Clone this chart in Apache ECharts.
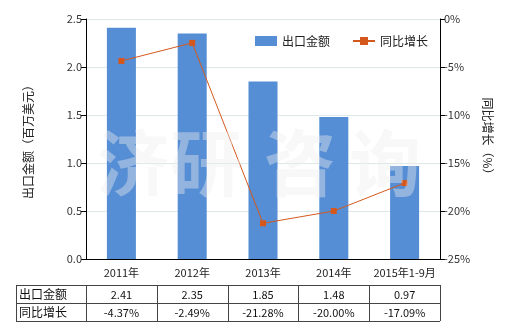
<!DOCTYPE html>
<html><head><meta charset="utf-8">
<script src="https://cdn.jsdelivr.net/npm/echarts@6/dist/echarts.min.js"></script>
<style>html,body{margin:0;padding:0;background:#fff}#c{width:520px;height:330px}</style>
</head><body><div id="c"></div>
<script>
const categories = ['2011年','2012年','2013年','2014年','2015年1-9月'];
const exportValues = [2.41, 2.35, 1.85, 1.48, 0.97];
const growthValues = [-4.37, -2.49, -21.28, -20.00, -17.09];
const exportLabels = ['2.41','2.35','1.85','1.48','0.97'];
const growthLabels = ['-4.37%','-2.49%','-21.28%','-20.00%','-17.09%'];
const rowNames = ['出口金额','同比增长'];
const watermark = ['济','研','咨','询'];

const FONT = '"Noto Sans CJK SC", "Noto Sans", sans-serif';
const chart = echarts.init(document.getElementById('c'));
const G = {left:86, right:80, top:19, bottom:71};
chart.setOption({
  animation:false,
  textStyle:{fontFamily:FONT},
  legend:{
    top:30, left:250, itemGap:22, itemWidth:22, itemHeight:10,
    textStyle:{fontSize:12, color:'#222', fontFamily:FONT},
    data:[{name:'出口金额', icon:'rect'},{name:'同比增长'}]
  },
  grid:G,
  xAxis:{
    type:'category', data:categories,
    axisLine:{lineStyle:{color:'#000'}},
    axisTick:{alignWithLabel:true, length:5, lineStyle:{color:'#000'}},
    axisLabel:{interval:0, color:'#222', fontSize:11, margin:8, fontFamily:FONT}
  },
  yAxis:[{
    type:'value', min:0, max:2.5, interval:0.5,
    name:'出口金额（百万美元）', nameLocation:'middle', nameGap:52,
    nameTextStyle:{fontSize:12, color:'#222', fontFamily:FONT},
    axisLine:{show:true, lineStyle:{color:'#000'}},
    axisTick:{show:true, length:5, lineStyle:{color:'#000'}},
    axisLabel:{formatter:v=>v.toFixed(1), color:'#333', fontSize:11, margin:4},
    splitLine:{lineStyle:{color:'#dde8e8'}}
  },{
    type:'value', min:-25, max:0, interval:5,
    name:'同比增长（%）', nameLocation:'middle', nameGap:42, nameRotate:-90,
    nameTextStyle:{fontSize:12, color:'#222', fontFamily:FONT},
    axisLine:{show:true, lineStyle:{color:'#000'}},
    axisTick:{show:true, length:5, lineStyle:{color:'#000'}},
    axisLabel:{formatter:v=>v+'%', color:'#333', fontSize:11, margin:4},
    splitLine:{show:false}
  }],
  series:[{
    name:'出口金额', type:'bar', data:exportValues, barWidth:'41%',
    itemStyle:{color:'#558ed5'}, z:1
  },{
    name:'同比增长', type:'line', yAxisIndex:1, data:growthValues,
    symbol:'rect', symbolSize:6,
    lineStyle:{color:'#d4581c', width:1},
    itemStyle:{color:'#d4581c'}, z:3
  }]
});

function drawExtras(){
  const els = [];
  const catW = (520 - G.left - G.right)/categories.length;
  const x0 = 16, yTop = 285, rowH = 18;
  const xs = [x0];
  for(let i=0;i<=categories.length;i++) xs.push(G.left + i*catW);
  const yRows = [yTop, yTop+rowH, yTop+2*rowH];
  const lineStyle = {stroke:'#444', lineWidth:1};
  yRows.forEach(y=>els.push({type:'line', shape:{x1:x0, y1:y+0.5, x2:xs[xs.length-1], y2:y+0.5}, style:lineStyle, silent:true}));
  xs.forEach(x=>els.push({type:'line', shape:{x1:Math.round(x)+0.5, y1:yTop, x2:Math.round(x)+0.5, y2:yTop+2*rowH}, style:lineStyle, silent:true}));
  const rows = [exportLabels, growthLabels];
  rows.forEach((row,r)=>{
    els.push({type:'text', x:x0+3, y:yRows[r]+rowH/2, style:{text:rowNames[r], font:'12px '+FONT, fill:'#111', textVerticalAlign:'middle'}, silent:true});
    row.forEach((t,i)=>{
      const cx = chart.convertToPixel({xAxisIndex:0}, categories[i]);
      els.push({type:'text', x:cx, y:yRows[r]+rowH/2+1, style:{text:t, font:'11px '+FONT, fill:'#111', textAlign:'center', textVerticalAlign:'middle'}, silent:true});
    });
  });
  const wmX = [133, 206, 300, 385];
  watermark.forEach((ch,i)=>{
    els.push({type:'text', x:wmX[i], y:163, z:10, style:{text:ch, font:'bold 72px '+FONT, fill:'rgba(238,238,238,0.4)', textAlign:'center', textVerticalAlign:'middle'}, silent:true});
  });
  chart.setOption({graphic:els});
}
drawExtras();
</script></body></html>
